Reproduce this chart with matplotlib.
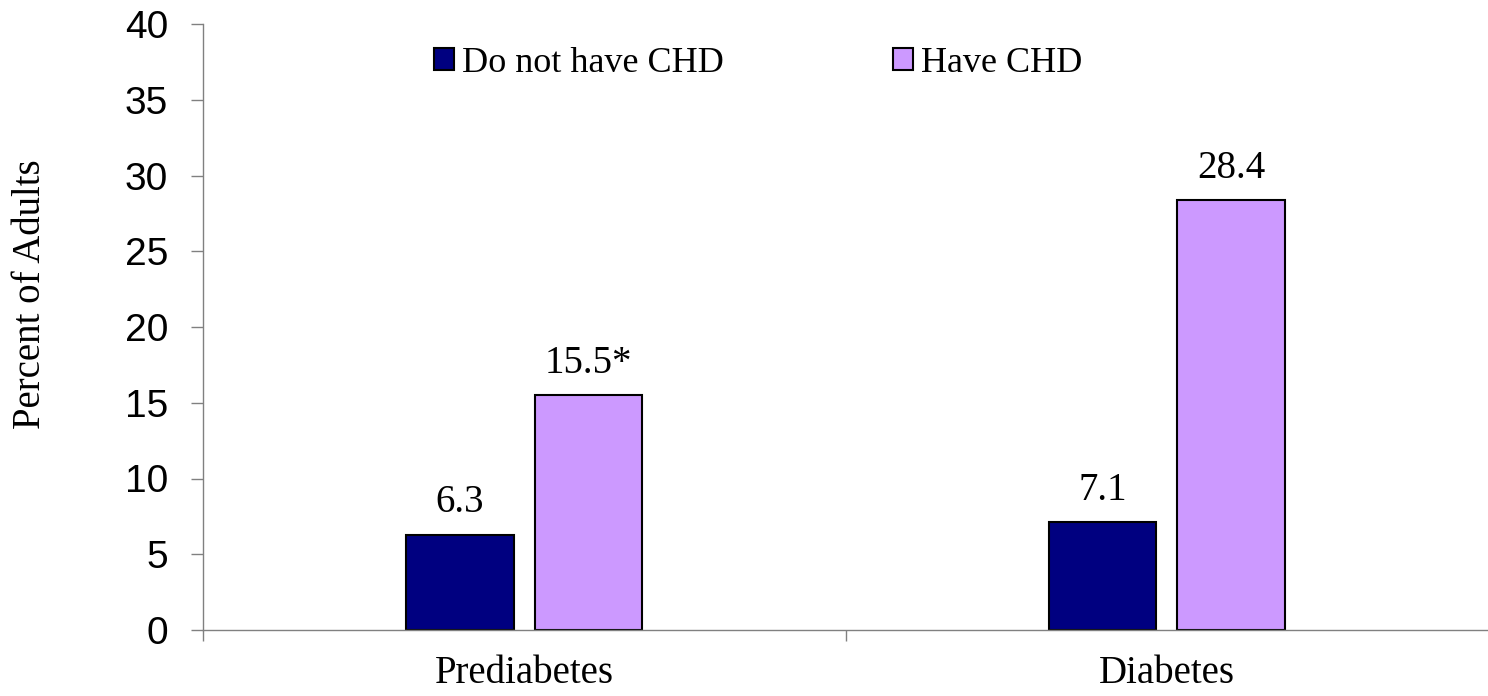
import matplotlib.pyplot as plt
import numpy as np

categories = ["Prediabetes", "Diabetes"]
no_chd = [6.3, 7.1]
have_chd = [15.5, 28.4]
no_chd_labels = ["6.3", "7.1"]
have_chd_labels = ["15.5*", "28.4"]

serif = "Liberation Serif"
sans = "Liberation Sans"

fig = plt.figure(figsize=(14.88, 6.96), dpi=100)
ax = fig.add_axes([203 / 1488, 66 / 696, 1285 / 1488, 606 / 696])

x = np.arange(len(categories))
w = 0.167
b1 = ax.bar(x - 0.1, no_chd, w, color="#000080", edgecolor="black", linewidth=1.5,
            label="Do not have CHD")
b2 = ax.bar(x + 0.1, have_chd, w, color="#CC99FF", edgecolor="black", linewidth=1.5,
            label="Have CHD")

for bars, labs in [(b1, no_chd_labels), (b2, have_chd_labels)]:
    for r, lab in zip(bars, labs):
        ax.annotate(lab, (r.get_x() + r.get_width() / 2, r.get_height()),
                    xytext=(0, 16), textcoords="offset points", ha="center", va="baseline",
                    fontsize=28, family=serif)

ax.set_xlim(-0.5, 1.5)
ax.set_ylim(0, 40)
ax.set_yticks(range(0, 41, 5))
ax.tick_params(axis="y", labelsize=28, length=9, width=1, color="#808080", pad=16)
for t in ax.get_yticklabels():
    t.set_family(sans)

ax.set_xticks([-0.5, 0.5])
ax.set_xticklabels(["", ""])
ax.tick_params(axis="x", length=8, width=1, color="#808080")
ax.set_xticks(x, minor=True)
ax.set_xticklabels(categories, minor=True, fontsize=28, family=serif)
ax.tick_params(axis="x", which="minor", length=0, pad=18)

for s in ["top", "right"]:
    ax.spines[s].set_visible(False)
for s in ["left", "bottom"]:
    ax.spines[s].set_color("#808080")
    ax.spines[s].set_linewidth(1)

fig.text(31 / 1488, 1 - 294 / 696, "Percent of Adults", rotation=90, ha="center", va="center",
         fontsize=28, family=serif)

fig.legend(handles=[b1, b2], loc="center left", bbox_to_anchor=(434 / 1488, 1 - 63 / 696),
           ncol=2, frameon=False, borderpad=0, borderaxespad=0,
           prop={"family": serif, "size": 26},
           handlelength=0.55, handleheight=0.55, handletextpad=0.22, columnspacing=4.7)

fig.savefig("out.png", dpi=100)
